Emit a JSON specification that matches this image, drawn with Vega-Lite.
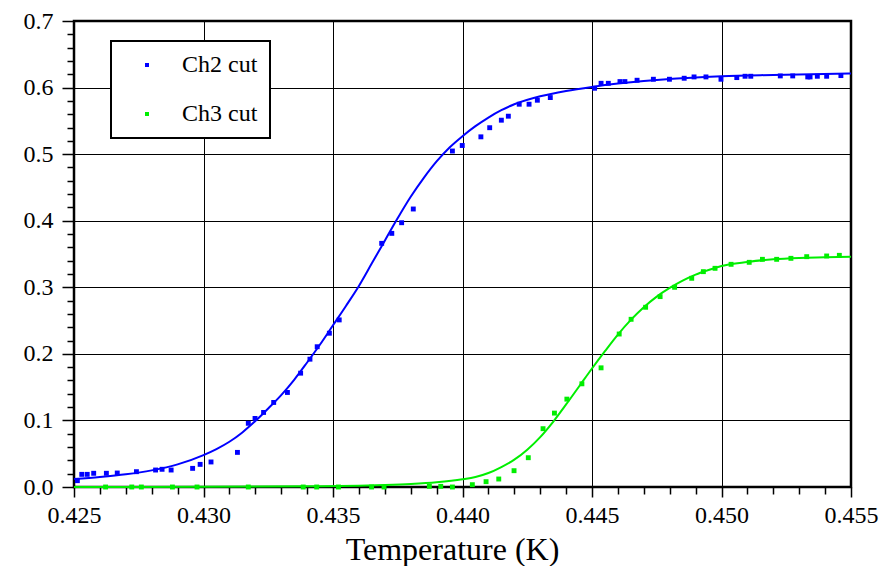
{
  "$schema": "https://vega.github.io/schema/vega-lite/v6.json",
  "width": 777,
  "height": 466,
  "autosize": {"type": "none"},
  "padding": {"left": 74, "top": 21, "right": 43, "bottom": 79},
  "background": "white",
  "config": {
    "view": {"stroke": "black", "strokeWidth": 2.5},
    "legend": {"strokeColor": "black", "strokeWidth": 2, "fillColor": "white", "padding": 12}
  },
  "layer": [
    {
      "data": {"values": [
      {"T": 0.42513, "v": 0.0095, "s": "Ch2 cut"},
      {"T": 0.4253, "v": 0.019, "s": "Ch2 cut"},
      {"T": 0.42551, "v": 0.019, "s": "Ch2 cut"},
      {"T": 0.42576, "v": 0.0206, "s": "Ch2 cut"},
      {"T": 0.42625, "v": 0.0206, "s": "Ch2 cut"},
      {"T": 0.42667, "v": 0.021, "s": "Ch2 cut"},
      {"T": 0.42741, "v": 0.023, "s": "Ch2 cut"},
      {"T": 0.42815, "v": 0.0255, "s": "Ch2 cut"},
      {"T": 0.4284, "v": 0.0266, "s": "Ch2 cut"},
      {"T": 0.42875, "v": 0.0255, "s": "Ch2 cut"},
      {"T": 0.42958, "v": 0.028, "s": "Ch2 cut"},
      {"T": 0.42987, "v": 0.034, "s": "Ch2 cut"},
      {"T": 0.43029, "v": 0.0376, "s": "Ch2 cut"},
      {"T": 0.43131, "v": 0.052, "s": "Ch2 cut"},
      {"T": 0.43173, "v": 0.0957, "s": "Ch2 cut"},
      {"T": 0.43199, "v": 0.103, "s": "Ch2 cut"},
      {"T": 0.43232, "v": 0.112, "s": "Ch2 cut"},
      {"T": 0.43271, "v": 0.127, "s": "Ch2 cut"},
      {"T": 0.43324, "v": 0.142, "s": "Ch2 cut"},
      {"T": 0.43375, "v": 0.171, "s": "Ch2 cut"},
      {"T": 0.43411, "v": 0.192, "s": "Ch2 cut"},
      {"T": 0.43439, "v": 0.2107, "s": "Ch2 cut"},
      {"T": 0.43486, "v": 0.231, "s": "Ch2 cut"},
      {"T": 0.43524, "v": 0.251, "s": "Ch2 cut"},
      {"T": 0.43688, "v": 0.366, "s": "Ch2 cut"},
      {"T": 0.43727, "v": 0.381, "s": "Ch2 cut"},
      {"T": 0.43765, "v": 0.397, "s": "Ch2 cut"},
      {"T": 0.4381, "v": 0.4176, "s": "Ch2 cut"},
      {"T": 0.43961, "v": 0.5047, "s": "Ch2 cut"},
      {"T": 0.43999, "v": 0.513, "s": "Ch2 cut"},
      {"T": 0.44071, "v": 0.526, "s": "Ch2 cut"},
      {"T": 0.44105, "v": 0.5397, "s": "Ch2 cut"},
      {"T": 0.4415, "v": 0.551, "s": "Ch2 cut"},
      {"T": 0.44177, "v": 0.557, "s": "Ch2 cut"},
      {"T": 0.44219, "v": 0.575, "s": "Ch2 cut"},
      {"T": 0.44257, "v": 0.575, "s": "Ch2 cut"},
      {"T": 0.44289, "v": 0.581, "s": "Ch2 cut"},
      {"T": 0.44339, "v": 0.585, "s": "Ch2 cut"},
      {"T": 0.4451, "v": 0.599, "s": "Ch2 cut"},
      {"T": 0.44535, "v": 0.6064, "s": "Ch2 cut"},
      {"T": 0.44563, "v": 0.6064, "s": "Ch2 cut"},
      {"T": 0.44608, "v": 0.609, "s": "Ch2 cut"},
      {"T": 0.44627, "v": 0.609, "s": "Ch2 cut"},
      {"T": 0.44674, "v": 0.611, "s": "Ch2 cut"},
      {"T": 0.44737, "v": 0.6125, "s": "Ch2 cut"},
      {"T": 0.44799, "v": 0.6125, "s": "Ch2 cut"},
      {"T": 0.44856, "v": 0.614, "s": "Ch2 cut"},
      {"T": 0.44894, "v": 0.616, "s": "Ch2 cut"},
      {"T": 0.4494, "v": 0.616, "s": "Ch2 cut"},
      {"T": 0.44998, "v": 0.6125, "s": "Ch2 cut"},
      {"T": 0.45059, "v": 0.615, "s": "Ch2 cut"},
      {"T": 0.45091, "v": 0.617, "s": "Ch2 cut"},
      {"T": 0.45113, "v": 0.617, "s": "Ch2 cut"},
      {"T": 0.45227, "v": 0.6175, "s": "Ch2 cut"},
      {"T": 0.45275, "v": 0.6175, "s": "Ch2 cut"},
      {"T": 0.45333, "v": 0.616, "s": "Ch2 cut"},
      {"T": 0.45342, "v": 0.616, "s": "Ch2 cut"},
      {"T": 0.4537, "v": 0.617, "s": "Ch2 cut"},
      {"T": 0.45406, "v": 0.617, "s": "Ch2 cut"},
      {"T": 0.45461, "v": 0.618, "s": "Ch2 cut"},
      {"T": 0.42622, "v": 0, "s": "Ch3 cut"},
      {"T": 0.42723, "v": 0, "s": "Ch3 cut"},
      {"T": 0.4276, "v": 0, "s": "Ch3 cut"},
      {"T": 0.4288, "v": 0, "s": "Ch3 cut"},
      {"T": 0.42975, "v": 0, "s": "Ch3 cut"},
      {"T": 0.43173, "v": 0, "s": "Ch3 cut"},
      {"T": 0.43385, "v": 0, "s": "Ch3 cut"},
      {"T": 0.43437, "v": 0, "s": "Ch3 cut"},
      {"T": 0.43521, "v": 0, "s": "Ch3 cut"},
      {"T": 0.43649, "v": 0, "s": "Ch3 cut"},
      {"T": 0.43697, "v": 0, "s": "Ch3 cut"},
      {"T": 0.43872, "v": 0.001, "s": "Ch3 cut"},
      {"T": 0.43916, "v": 0.001, "s": "Ch3 cut"},
      {"T": 0.43961, "v": 0, "s": "Ch3 cut"},
      {"T": 0.44038, "v": 0.0035, "s": "Ch3 cut"},
      {"T": 0.44091, "v": 0.008, "s": "Ch3 cut"},
      {"T": 0.4414, "v": 0.012, "s": "Ch3 cut"},
      {"T": 0.44199, "v": 0.0245, "s": "Ch3 cut"},
      {"T": 0.44254, "v": 0.044, "s": "Ch3 cut"},
      {"T": 0.44311, "v": 0.0876, "s": "Ch3 cut"},
      {"T": 0.44355, "v": 0.111, "s": "Ch3 cut"},
      {"T": 0.44403, "v": 0.132, "s": "Ch3 cut"},
      {"T": 0.44461, "v": 0.155, "s": "Ch3 cut"},
      {"T": 0.44535, "v": 0.179, "s": "Ch3 cut"},
      {"T": 0.44605, "v": 0.2298, "s": "Ch3 cut"},
      {"T": 0.44651, "v": 0.2519, "s": "Ch3 cut"},
      {"T": 0.44707, "v": 0.27, "s": "Ch3 cut"},
      {"T": 0.44763, "v": 0.286, "s": "Ch3 cut"},
      {"T": 0.44819, "v": 0.3, "s": "Ch3 cut"},
      {"T": 0.44885, "v": 0.3135, "s": "Ch3 cut"},
      {"T": 0.4493, "v": 0.3235, "s": "Ch3 cut"},
      {"T": 0.44975, "v": 0.3285, "s": "Ch3 cut"},
      {"T": 0.45037, "v": 0.3345, "s": "Ch3 cut"},
      {"T": 0.45107, "v": 0.3375, "s": "Ch3 cut"},
      {"T": 0.45158, "v": 0.342, "s": "Ch3 cut"},
      {"T": 0.45213, "v": 0.342, "s": "Ch3 cut"},
      {"T": 0.45268, "v": 0.3435, "s": "Ch3 cut"},
      {"T": 0.45329, "v": 0.346, "s": "Ch3 cut"},
      {"T": 0.45406, "v": 0.347, "s": "Ch3 cut"},
      {"T": 0.45455, "v": 0.348, "s": "Ch3 cut"}
      ]},
      "mark": {"type": "point", "shape": "square", "filled": true, "size": 24, "opacity": 1},
      "encoding": {
        "x": {"field": "T", "type": "quantitative", "scale": {"domain": [0.425, 0.455], "nice": false, "zero": false},
          "axis": {"orient": "bottom", "tickCount": 200,
            "values": [0.425, 0.426, 0.427, 0.428, 0.429, 0.43, 0.431, 0.432, 0.433, 0.434, 0.435, 0.436, 0.437, 0.438, 0.439, 0.44, 0.441, 0.442, 0.443, 0.444, 0.445, 0.446, 0.447, 0.448, 0.449, 0.45, 0.451, 0.452, 0.453, 0.454, 0.455],
            "labelExpr": "abs(datum.value*200 - round(datum.value*200)) < 0.001 ? format(datum.value, '.3f') : ''",
            "labelFontSize": 24, "labelFont": "Liberation Serif", "labelColor": "black", "labelPadding": 6,
            "tickSize": {"condition": {"test": "abs(datum.value*200 - round(datum.value*200)) < 0.001", "value": 10}, "value": 7},
            "tickWidth": 1.5, "tickColor": "black", "domain": false,
            "grid": true, "gridColor": "black", "gridWidth": 1,
            "gridOpacity": {"condition": {"test": "abs(datum.value*200 - round(datum.value*200)) < 0.001", "value": 1}, "value": 0},
            "labelFlush": false, "labelOverlap": false, "labelBound": false,
            "title": "Temperature (K)", "titleFont": "Liberation Serif", "titleFontSize": 32, "titleFontWeight": "normal", "titleColor": "black",
            "titleX": 378, "titleY": 72, "titleBaseline": "alphabetic", "titleAlign": "center"}},
        "y": {"field": "v", "type": "quantitative", "scale": {"domain": [0, 0.7], "nice": false, "zero": false},
          "axis": {"orient": "left", "tickCount": 200,
            "values": [0, 0.02, 0.04, 0.06, 0.08, 0.1, 0.12, 0.14, 0.16, 0.18, 0.2, 0.22, 0.24, 0.26, 0.28, 0.3, 0.32, 0.34, 0.36, 0.38, 0.4, 0.42, 0.44, 0.46, 0.48, 0.5, 0.52, 0.54, 0.56, 0.58, 0.6, 0.62, 0.64, 0.66, 0.68, 0.7],
            "labelExpr": "abs(datum.value*10 - round(datum.value*10)) < 0.001 ? format(datum.value, '.1f') : ''",
            "labelFontSize": 24, "labelFont": "Liberation Serif", "labelColor": "black", "labelPadding": 9,
            "tickSize": {"condition": {"test": "abs(datum.value*10 - round(datum.value*10)) < 0.001", "value": 12}, "value": 7},
            "tickWidth": 1.5, "tickColor": "black", "domain": false,
            "grid": true, "gridColor": "black", "gridWidth": 1,
            "gridOpacity": {"condition": {"test": "abs(datum.value*10 - round(datum.value*10)) < 0.001", "value": 1}, "value": 0},
            "labelFlush": false, "labelOverlap": false, "labelBound": false, "title": null}},
        "color": {"field": "s", "type": "nominal", "scale": {"domain": ["Ch2 cut", "Ch3 cut"], "range": ["#0000ff", "#00ee00"]},
          "legend": {"title": null, "orient": "none", "legendX": 37, "legendY": 20,
            "symbolType": "square", "symbolSize": 16, "symbolOffset": 12, "symbolStrokeWidth": 0,
            "labelOffset": 23, "labelFontSize": 24, "labelFont": "Liberation Serif", "labelColor": "black",
            "rowPadding": 25, "labelLimit": 300, "labelExpr": "datum.label + '      '"}}
      }
    },
    {
      "data": {"values": [
      {"T": 0.425, "v": 0.012, "s": "Ch2 cut"},
      {"T": 0.426, "v": 0.015, "s": "Ch2 cut"},
      {"T": 0.427, "v": 0.019, "s": "Ch2 cut"},
      {"T": 0.428, "v": 0.025, "s": "Ch2 cut"},
      {"T": 0.429, "v": 0.034, "s": "Ch2 cut"},
      {"T": 0.43, "v": 0.048, "s": "Ch2 cut"},
      {"T": 0.4305, "v": 0.057, "s": "Ch2 cut"},
      {"T": 0.431, "v": 0.068, "s": "Ch2 cut"},
      {"T": 0.4315, "v": 0.082, "s": "Ch2 cut"},
      {"T": 0.432, "v": 0.099, "s": "Ch2 cut"},
      {"T": 0.4325, "v": 0.118, "s": "Ch2 cut"},
      {"T": 0.433, "v": 0.138, "s": "Ch2 cut"},
      {"T": 0.4335, "v": 0.161, "s": "Ch2 cut"},
      {"T": 0.434, "v": 0.187, "s": "Ch2 cut"},
      {"T": 0.4345, "v": 0.214, "s": "Ch2 cut"},
      {"T": 0.435, "v": 0.243, "s": "Ch2 cut"},
      {"T": 0.4355, "v": 0.272, "s": "Ch2 cut"},
      {"T": 0.436, "v": 0.302, "s": "Ch2 cut"},
      {"T": 0.4365, "v": 0.336, "s": "Ch2 cut"},
      {"T": 0.437, "v": 0.37, "s": "Ch2 cut"},
      {"T": 0.4375, "v": 0.404, "s": "Ch2 cut"},
      {"T": 0.438, "v": 0.436, "s": "Ch2 cut"},
      {"T": 0.4385, "v": 0.464, "s": "Ch2 cut"},
      {"T": 0.439, "v": 0.489, "s": "Ch2 cut"},
      {"T": 0.4395, "v": 0.51, "s": "Ch2 cut"},
      {"T": 0.44, "v": 0.527, "s": "Ch2 cut"},
      {"T": 0.4405, "v": 0.542, "s": "Ch2 cut"},
      {"T": 0.441, "v": 0.555, "s": "Ch2 cut"},
      {"T": 0.4415, "v": 0.566, "s": "Ch2 cut"},
      {"T": 0.442, "v": 0.575, "s": "Ch2 cut"},
      {"T": 0.443, "v": 0.587, "s": "Ch2 cut"},
      {"T": 0.444, "v": 0.595, "s": "Ch2 cut"},
      {"T": 0.445, "v": 0.601, "s": "Ch2 cut"},
      {"T": 0.446, "v": 0.606, "s": "Ch2 cut"},
      {"T": 0.447, "v": 0.61, "s": "Ch2 cut"},
      {"T": 0.448, "v": 0.613, "s": "Ch2 cut"},
      {"T": 0.449, "v": 0.615, "s": "Ch2 cut"},
      {"T": 0.45, "v": 0.617, "s": "Ch2 cut"},
      {"T": 0.452, "v": 0.619, "s": "Ch2 cut"},
      {"T": 0.455, "v": 0.621, "s": "Ch2 cut"},
      {"T": 0.425, "v": 0, "s": "Ch3 cut"},
      {"T": 0.43, "v": 0.0003, "s": "Ch3 cut"},
      {"T": 0.434, "v": 0.001, "s": "Ch3 cut"},
      {"T": 0.436, "v": 0.002, "s": "Ch3 cut"},
      {"T": 0.437, "v": 0.003, "s": "Ch3 cut"},
      {"T": 0.438, "v": 0.0045, "s": "Ch3 cut"},
      {"T": 0.439, "v": 0.007, "s": "Ch3 cut"},
      {"T": 0.44, "v": 0.0115, "s": "Ch3 cut"},
      {"T": 0.4405, "v": 0.015, "s": "Ch3 cut"},
      {"T": 0.441, "v": 0.021, "s": "Ch3 cut"},
      {"T": 0.4415, "v": 0.03, "s": "Ch3 cut"},
      {"T": 0.442, "v": 0.041, "s": "Ch3 cut"},
      {"T": 0.4425, "v": 0.056, "s": "Ch3 cut"},
      {"T": 0.443, "v": 0.075, "s": "Ch3 cut"},
      {"T": 0.4435, "v": 0.098, "s": "Ch3 cut"},
      {"T": 0.444, "v": 0.124, "s": "Ch3 cut"},
      {"T": 0.4445, "v": 0.151, "s": "Ch3 cut"},
      {"T": 0.445, "v": 0.178, "s": "Ch3 cut"},
      {"T": 0.4455, "v": 0.204, "s": "Ch3 cut"},
      {"T": 0.446, "v": 0.229, "s": "Ch3 cut"},
      {"T": 0.4465, "v": 0.251, "s": "Ch3 cut"},
      {"T": 0.447, "v": 0.27, "s": "Ch3 cut"},
      {"T": 0.4475, "v": 0.286, "s": "Ch3 cut"},
      {"T": 0.448, "v": 0.299, "s": "Ch3 cut"},
      {"T": 0.4485, "v": 0.31, "s": "Ch3 cut"},
      {"T": 0.449, "v": 0.319, "s": "Ch3 cut"},
      {"T": 0.4495, "v": 0.326, "s": "Ch3 cut"},
      {"T": 0.45, "v": 0.332, "s": "Ch3 cut"},
      {"T": 0.451, "v": 0.338, "s": "Ch3 cut"},
      {"T": 0.452, "v": 0.342, "s": "Ch3 cut"},
      {"T": 0.453, "v": 0.344, "s": "Ch3 cut"},
      {"T": 0.454, "v": 0.345, "s": "Ch3 cut"},
      {"T": 0.455, "v": 0.346, "s": "Ch3 cut"}
      ]},
      "mark": {"type": "line", "strokeWidth": 2, "interpolate": "monotone"},
      "encoding": {
        "x": {"field": "T", "type": "quantitative"},
        "y": {"field": "v", "type": "quantitative"},
        "color": {"field": "s", "type": "nominal", "legend": null}
      }
    }
  ]
}
